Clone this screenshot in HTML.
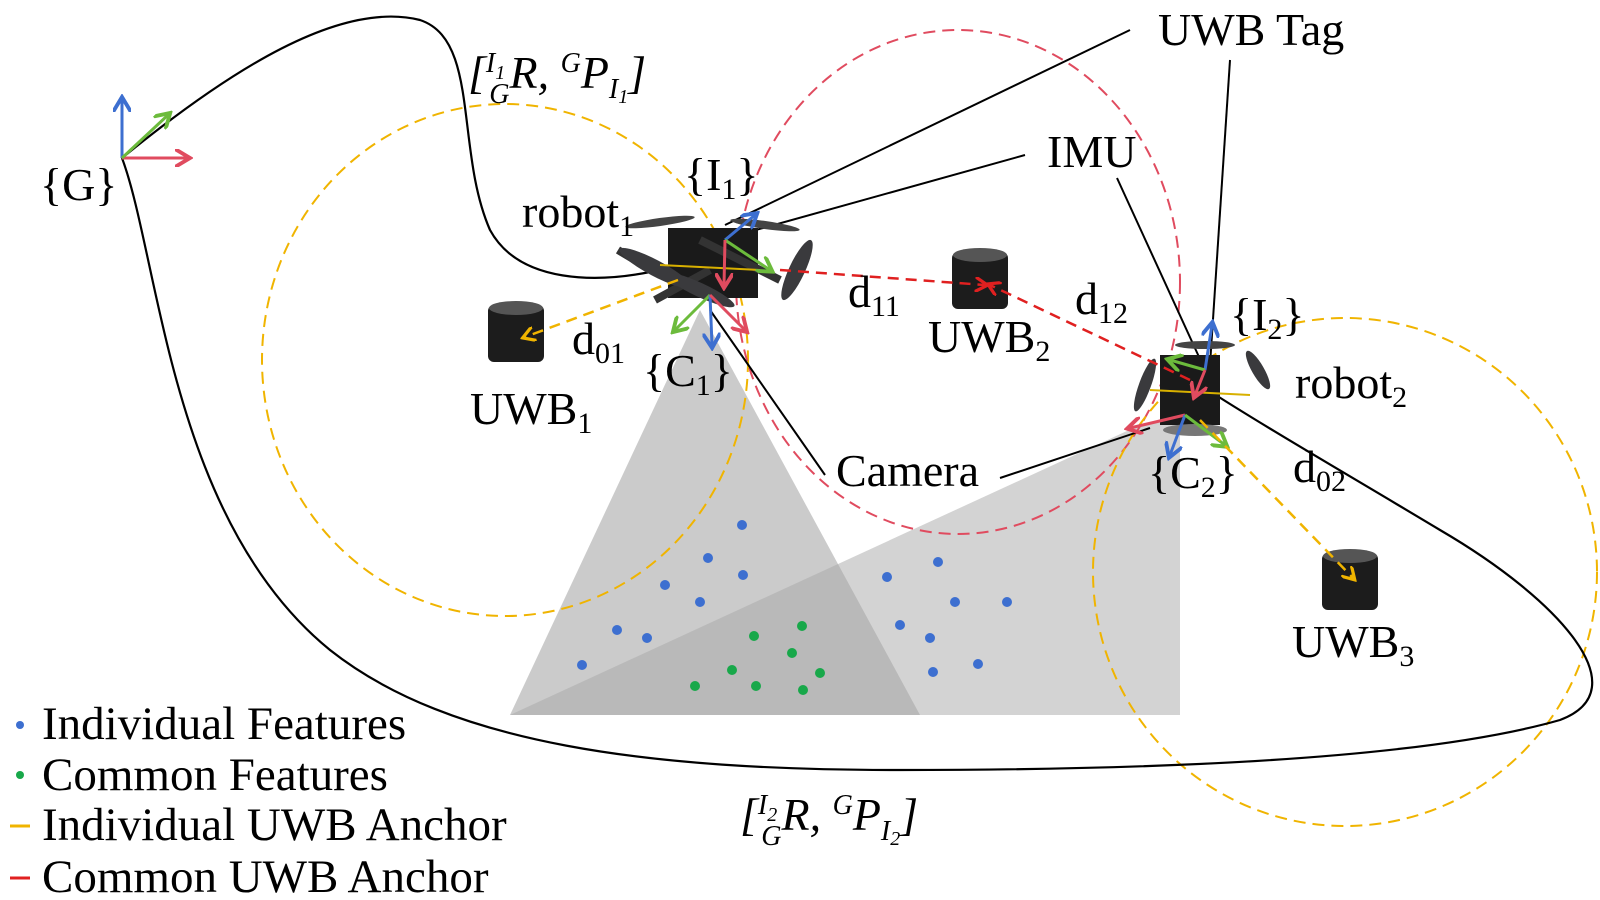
<!DOCTYPE html>
<html><head><meta charset="utf-8"><style>
body{margin:0;background:#fff}
svg{display:block}
text{font-family:"Liberation Serif",serif;fill:#000}
</style></head><body>
<svg width="1600" height="900" viewBox="0 0 1600 900" xmlns="http://www.w3.org/2000/svg">
<defs>
<marker id="ab" markerWidth="6" markerHeight="6" refX="4" refY="3" orient="auto"><path d="M0,0 L5,3 L0,6" fill="none" stroke="#3d6fd0" stroke-width="1.3"/></marker>
<marker id="ag" markerWidth="6" markerHeight="6" refX="4" refY="3" orient="auto"><path d="M0,0 L5,3 L0,6" fill="none" stroke="#6cbb3c" stroke-width="1.3"/></marker>
<marker id="ar" markerWidth="6" markerHeight="6" refX="4" refY="3" orient="auto"><path d="M0,0 L5,3 L0,6" fill="none" stroke="#e04b5f" stroke-width="1.3"/></marker>
<marker id="ay" markerWidth="6" markerHeight="6" refX="4" refY="3" orient="auto"><path d="M0,0 L5,3 L0,6" fill="none" stroke="#f0b400" stroke-width="1.3"/></marker>
<marker id="arr" markerWidth="6" markerHeight="6" refX="4" refY="3" orient="auto"><path d="M0,0 L5,3 L0,6" fill="none" stroke="#e02020" stroke-width="1.3"/></marker>
</defs>
<polygon points="700,310 510,715 920,715" fill="#a8a8a8" opacity="0.6"/>
<polygon points="1140,425 1180,420 1180,715 510,715" fill="#a8a8a8" opacity="0.5"/>
<ellipse cx="505" cy="360" rx="243" ry="256" fill="none" stroke="#f0b400" stroke-width="2" stroke-dasharray="12,7"/>
<ellipse cx="958" cy="282" rx="222" ry="252" fill="none" stroke="#e04b5f" stroke-width="2" stroke-dasharray="12,7"/>
<ellipse cx="1345" cy="572" rx="252" ry="254" fill="none" stroke="#f0b400" stroke-width="2" stroke-dasharray="12,7"/>
<path d="M122,158 C230,70 340,0 420,20 C480,40 455,150 490,230 C520,285 600,282 650,272" fill="none" stroke="#000" stroke-width="2.2"/>
<path d="M122,158 C160,260 170,520 330,650 C450,745 650,770 900,770 C1150,770 1420,760 1560,720 C1640,690 1560,600 1440,530 C1340,470 1270,430 1200,385" fill="none" stroke="#000" stroke-width="2.2"/>
<line x1="1130" y1="30" x2="725" y2="225" stroke="#000" stroke-width="2"/>
<line x1="1025" y1="155" x2="720" y2="240" stroke="#000" stroke-width="2"/>
<line x1="1230" y1="60" x2="1210" y2="365" stroke="#000" stroke-width="2"/>
<line x1="1117" y1="178" x2="1205" y2="370" stroke="#000" stroke-width="2"/>
<line x1="710" y1="310" x2="825" y2="475" stroke="#000" stroke-width="2"/>
<line x1="1000" y1="478" x2="1150" y2="428" stroke="#000" stroke-width="2"/>
<line x1="122" y1="158" x2="122" y2="100" stroke="#3d6fd0" stroke-width="3" marker-end="url(#ab)"/>
<line x1="122" y1="158" x2="187" y2="158" stroke="#e04b5f" stroke-width="3" marker-end="url(#ar)"/>
<line x1="122" y1="158" x2="168" y2="115" stroke="#6cbb3c" stroke-width="3" marker-end="url(#ag)"/>
<g>
<rect x="668" y="228" width="90" height="70" fill="#1a1a1a"/>
<path d="M618,250 L660,275 M655,300 L710,270 M700,240 L780,280" stroke="#333" stroke-width="8"/>
<ellipse cx="655" cy="268" rx="40" ry="8" fill="#3a3a3d" transform="rotate(28 655 268)"/>
<ellipse cx="700" cy="290" rx="38" ry="7" fill="#3a3a3d" transform="rotate(25 700 290)"/>
<ellipse cx="797" cy="270" rx="33" ry="8" fill="#3a3a3d" transform="rotate(-65 797 270)"/>
<ellipse cx="660" cy="222" rx="35" ry="4" fill="#444" transform="rotate(-8 660 222)"/>
<ellipse cx="765" cy="225" rx="35" ry="4" fill="#444" transform="rotate(8 765 225)"/>
<line x1="660" y1="265" x2="760" y2="270" stroke="#d8b000" stroke-width="2"/>
</g>
<line x1="725" y1="240" x2="755" y2="215" stroke="#3d6fd0" stroke-width="3" marker-end="url(#ab)"/>
<line x1="725" y1="240" x2="770" y2="270" stroke="#6cbb3c" stroke-width="3" marker-end="url(#ag)"/>
<line x1="725" y1="240" x2="724" y2="285" stroke="#e04b5f" stroke-width="3" marker-end="url(#ar)"/>
<line x1="710" y1="295" x2="675" y2="330" stroke="#6cbb3c" stroke-width="3" marker-end="url(#ag)"/>
<line x1="710" y1="295" x2="712" y2="345" stroke="#3d6fd0" stroke-width="3" marker-end="url(#ab)"/>
<line x1="710" y1="295" x2="745" y2="330" stroke="#e04b5f" stroke-width="3" marker-end="url(#ar)"/>
<g>
<rect x="1160" y="355" width="60" height="70" fill="#1a1a1a"/>
<ellipse cx="1145" cy="385" rx="28" ry="6" fill="#3a3a3d" transform="rotate(-70 1145 385)"/>
<ellipse cx="1258" cy="370" rx="22" ry="6" fill="#3a3a3d" transform="rotate(60 1258 370)"/>
<ellipse cx="1205" cy="345" rx="30" ry="4" fill="#444"/>
<ellipse cx="1195" cy="430" rx="32" ry="6" fill="#777"/>
<line x1="1150" y1="390" x2="1250" y2="395" stroke="#d8b000" stroke-width="2"/>
</g>
<line x1="1205" y1="370" x2="1212" y2="325" stroke="#3d6fd0" stroke-width="3" marker-end="url(#ab)"/>
<line x1="1205" y1="370" x2="1170" y2="360" stroke="#6cbb3c" stroke-width="3" marker-end="url(#ag)"/>
<line x1="1205" y1="370" x2="1195" y2="395" stroke="#e04b5f" stroke-width="3" marker-end="url(#ar)"/>
<line x1="1185" y1="415" x2="1130" y2="428" stroke="#e04b5f" stroke-width="3" marker-end="url(#ar)"/>
<line x1="1185" y1="415" x2="1170" y2="455" stroke="#3d6fd0" stroke-width="3" marker-end="url(#ab)"/>
<line x1="1185" y1="415" x2="1225" y2="445" stroke="#6cbb3c" stroke-width="3" marker-end="url(#ag)"/>
<g fill="#1c1c1c">
<rect x="488" y="305" width="56" height="57" rx="6"/><ellipse cx="516" cy="308" rx="27" ry="7" fill="#555"/>
<rect x="952" y="252" width="56" height="57" rx="6"/><ellipse cx="980" cy="255" rx="27" ry="7" fill="#555"/>
<rect x="1322" y="553" width="56" height="57" rx="6"/><ellipse cx="1350" cy="556" rx="27" ry="7" fill="#555"/>
</g>
<line x1="678" y1="280" x2="525" y2="337" stroke="#f0b400" stroke-width="2.5" stroke-dasharray="11,7" marker-end="url(#ay)"/>
<line x1="780" y1="270" x2="985" y2="285" stroke="#e02020" stroke-width="2.5" stroke-dasharray="11,7" marker-end="url(#arr)"/>
<line x1="1190" y1="380" x2="990" y2="285" stroke="#e02020" stroke-width="2.5" stroke-dasharray="11,7" marker-end="url(#arr)"/>
<line x1="1200" y1="420" x2="1353" y2="578" stroke="#f0b400" stroke-width="2.5" stroke-dasharray="11,7" marker-end="url(#ay)"/>
<g fill="#3d6fd0">
<circle cx="742" cy="525" r="5"/><circle cx="708" cy="558" r="5"/><circle cx="743" cy="575" r="5"/><circle cx="665" cy="585" r="5"/><circle cx="700" cy="602" r="5"/><circle cx="617" cy="630" r="5"/><circle cx="647" cy="638" r="5"/><circle cx="582" cy="665" r="5"/>
<circle cx="938" cy="562" r="5"/><circle cx="887" cy="577" r="5"/><circle cx="955" cy="602" r="5"/><circle cx="1007" cy="602" r="5"/><circle cx="900" cy="625" r="5"/><circle cx="930" cy="638" r="5"/><circle cx="978" cy="664" r="5"/><circle cx="933" cy="672" r="5"/>
</g>
<g fill="#18a84a">
<circle cx="802" cy="626" r="5"/><circle cx="754" cy="636" r="5"/><circle cx="792" cy="653" r="5"/><circle cx="732" cy="670" r="5"/><circle cx="820" cy="673" r="5"/><circle cx="695" cy="686" r="5"/><circle cx="756" cy="686" r="5"/><circle cx="803" cy="690" r="5"/>
</g>
<g font-size="46">
<text x="40" y="200">{G}</text>
<text x="1158" y="45">UWB Tag</text>
<text x="1047" y="167">IMU</text>
<text x="684" y="190">{I<tspan font-size="30" dy="9">1</tspan><tspan dy="-9">}</tspan></text>
<text x="522" y="227">robot<tspan font-size="30" dy="9">1</tspan></text>
<text x="848" y="307">d<tspan font-size="30" dy="9">11</tspan></text>
<text x="1075" y="314">d<tspan font-size="30" dy="9">12</tspan></text>
<text x="572" y="354">d<tspan font-size="30" dy="9">01</tspan></text>
<text x="643" y="386">{C<tspan font-size="30" dy="9">1</tspan><tspan dy="-9">}</tspan></text>
<text x="928" y="352">UWB<tspan font-size="30" dy="9">2</tspan></text>
<text x="470" y="424">UWB<tspan font-size="30" dy="9">1</tspan></text>
<text x="1230" y="330">{I<tspan font-size="30" dy="9">2</tspan><tspan dy="-9">}</tspan></text>
<text x="1295" y="398">robot<tspan font-size="30" dy="9">2</tspan></text>
<text x="836" y="486">Camera</text>
<text x="1148" y="488">{C<tspan font-size="30" dy="9">2</tspan><tspan dy="-9">}</tspan></text>
<text x="1293" y="482">d<tspan font-size="30" dy="9">02</tspan></text>
<text x="1292" y="657">UWB<tspan font-size="30" dy="9">3</tspan></text>
<text x="468" y="88" font-style="italic">[<tspan font-size="28" dy="-16">I</tspan><tspan font-size="20" dy="7">1</tspan><tspan font-size="28" dx="-16" dy="24">G</tspan><tspan dy="-15">R, </tspan><tspan font-size="28" dy="-16">G</tspan><tspan dy="16">P</tspan><tspan font-size="28" dy="10">I</tspan><tspan font-size="20" dy="5">1</tspan><tspan dy="-15">]</tspan></text>
<text x="740" y="830" font-style="italic">[<tspan font-size="28" dy="-16">I</tspan><tspan font-size="20" dy="7">2</tspan><tspan font-size="28" dx="-16" dy="24">G</tspan><tspan dy="-15">R, </tspan><tspan font-size="28" dy="-16">G</tspan><tspan dy="16">P</tspan><tspan font-size="28" dy="10">I</tspan><tspan font-size="20" dy="5">2</tspan><tspan dy="-15">]</tspan></text>
</g>
<circle cx="20" cy="725" r="4" fill="#3d6fd0"/>
<circle cx="20" cy="775" r="4" fill="#18a84a"/>
<line x1="10" y1="826" x2="30" y2="826" stroke="#f0b400" stroke-width="3"/>
<line x1="10" y1="878" x2="30" y2="878" stroke="#e02020" stroke-width="3"/>
<g font-size="47">
<text x="42" y="739">Individual Features</text>
<text x="42" y="790">Common Features</text>
<text x="42" y="840">Individual UWB Anchor</text>
<text x="42" y="892">Common UWB Anchor</text>
</g>
</svg>
</body></html>
